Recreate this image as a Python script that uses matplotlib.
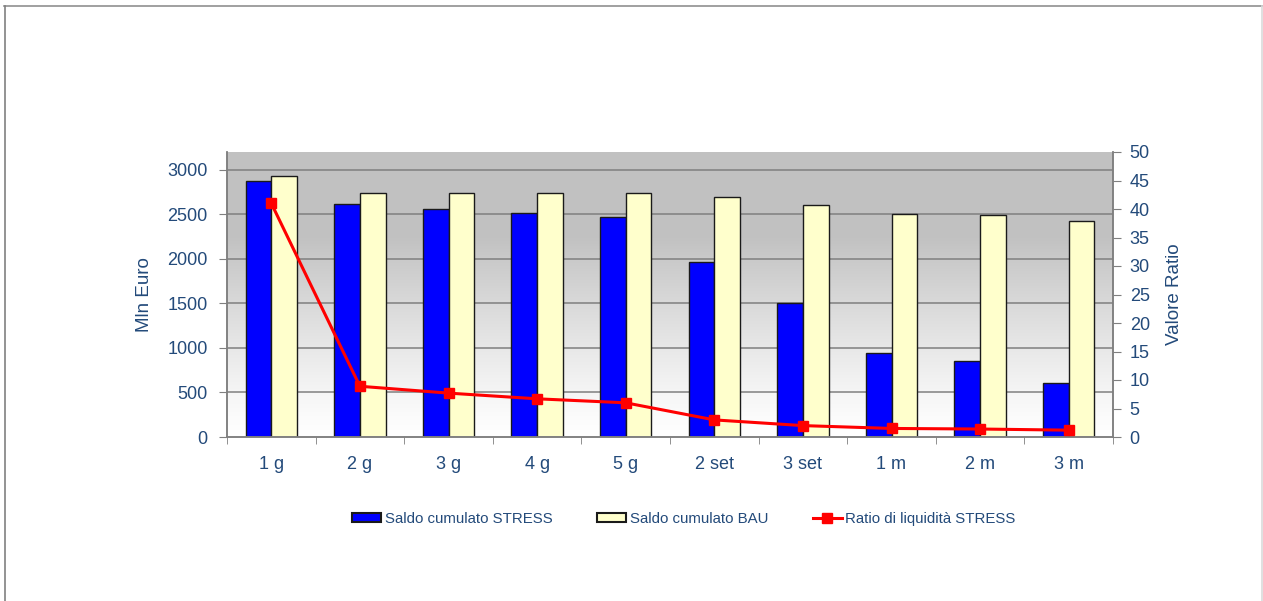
import numpy as np
import matplotlib
matplotlib.use("Agg")
import matplotlib.pyplot as plt
from matplotlib.patches import Patch
from matplotlib.lines import Line2D

plt.rcParams['font.family'] = ['Liberation Sans', 'DejaVu Sans']

categories = ["1 g", "2 g", "3 g", "4 g", "5 g", "2 set", "3 set", "1 m", "2 m", "3 m"]
saldo_stress = [2878, 2620, 2565, 2515, 2465, 1965, 1505, 940, 852, 603]
saldo_bau = [2933, 2738, 2738, 2738, 2738, 2700, 2607, 2506, 2491, 2430]
ratio_stress = [41.0, 8.9, 7.7, 6.7, 6.0, 3.0, 2.0, 1.5, 1.4, 1.2]

label_stress = "Saldo cumulato STRESS"
label_bau = "Saldo cumulato BAU"
label_ratio = "Ratio di liquidità STRESS"

txt = '#234A7A'
grid_c = '#7F7F7F'

fig = plt.figure(figsize=(12.63, 6.01), dpi=100)
ax = fig.add_axes([227/1263, 1-437/601, (1113-227)/1263, (437-152)/601])
ax2 = ax.twinx()

n = len(categories)
x = np.arange(n)
ax.set_xlim(-0.5, n-0.5)
ax.set_ylim(0, 3200)
ax2.set_ylim(0, 50)

# gradient background
h = 300
t = np.linspace(0, 1, h)[:, None]
f = np.clip(t / 0.7, 0, 1) ** 1.2
top = np.array([0.76, 0.76, 0.76])
bot = np.array([1.0, 1.0, 1.0])
img = bot[None, None, :] * (1 - f[..., None]) + top[None, None, :] * f[..., None]
img = np.repeat(img, 2, axis=1)
ax.imshow(img, extent=[-0.5, n-0.5, 0, 3200], origin='lower', aspect='auto', zorder=0)

yt = np.arange(0, 3001, 500)
for v in yt[1:]:
    ax.axhline(v, color=grid_c, lw=1.1, zorder=1)

w = 0.29
ax.bar(x - w/2, saldo_stress, width=w, color='#0000FF', edgecolor='#1a1a1a', lw=1.0, zorder=2)
ax.bar(x + w/2, saldo_bau, width=w, color='#FFFFCC', edgecolor='#1a1a1a', lw=1.0, zorder=2)

ax2.plot(x, ratio_stress, color='#FF0000', lw=2.2, marker='s', ms=7, zorder=3)

ax.set_yticks(yt)
ax.set_yticklabels([str(v) for v in yt])
ax2.set_yticks(np.arange(0, 51, 5))
ax.set_xticks(x)
ax.set_xticklabels(categories)
ax.set_xticks(np.arange(-0.5, n, 1), minor=True)
ax.tick_params(axis='x', which='major', length=0, pad=14, labelsize=13, labelcolor=txt)
ax.tick_params(axis='x', which='minor', length=5, color=grid_c, direction='out')
ax.tick_params(axis='y', length=6, color=grid_c, labelsize=13, labelcolor=txt, pad=8)
ax2.tick_params(axis='y', length=6, color=grid_c, labelsize=13, labelcolor=txt, pad=6)

for a in (ax, ax2):
    a.spines['top'].set_visible(False)
    for s in ('left', 'right', 'bottom'):
        a.spines[s].set_color(grid_c)
        a.spines[s].set_linewidth(1.1)

ax.set_ylabel("Mln Euro", color=txt, fontsize=13.5, labelpad=10)
ax2.set_ylabel("Valore Ratio", color=txt, fontsize=13.5, rotation=90, labelpad=12)
ax.set_zorder(1)
ax2.set_zorder(2)
ax.patch.set_visible(False)
ax2.patch.set_visible(False)

handles = [Patch(facecolor='#0000FF', edgecolor='#1a1a1a', lw=1.5),
           Patch(facecolor='#FFFFCC', edgecolor='#1a1a1a', lw=1.5),
           Line2D([0], [0], color='#FF0000', lw=2.2, marker='s', ms=7)]
fig.legend(handles, [label_stress, label_bau, label_ratio], loc='center',
           bbox_to_anchor=(684/1263, 1-519/601), ncol=3, frameon=False,
           fontsize=10.8, labelcolor=txt, handlelength=1.9, handleheight=0.6,
           handletextpad=0.25, columnspacing=3.0)

# outer frame
fig.add_artist(Line2D([4/1263, 1], [1-5.5/601]*2, color='#909090', lw=1.2, transform=fig.transFigure))
fig.add_artist(Line2D([4.5/1263]*2, [0, 1-5.5/601], color='#808080', lw=1.2, transform=fig.transFigure))
fig.add_artist(Line2D([1261.5/1263]*2, [0, 1-5.5/601], color='#DADADA', lw=1.2, transform=fig.transFigure))

fig.savefig("out.png", dpi=100)
